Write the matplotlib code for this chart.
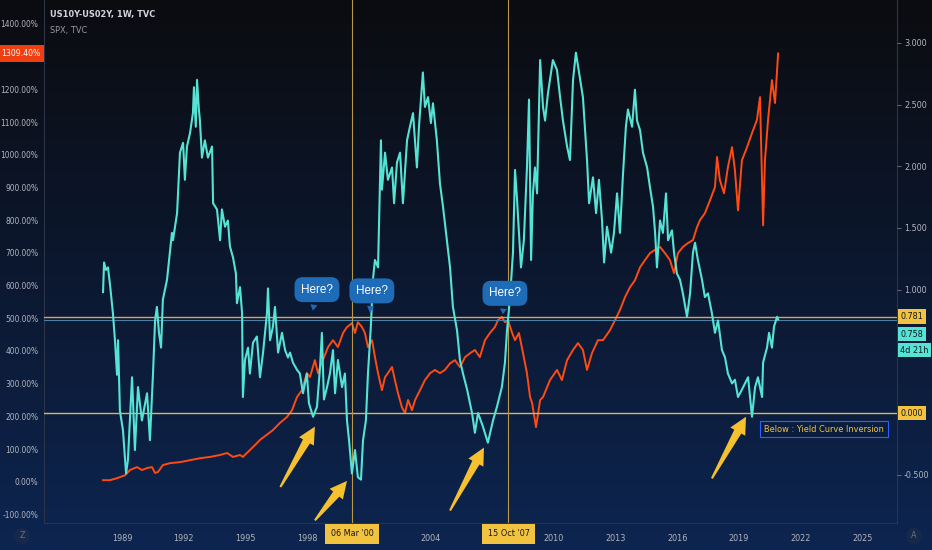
import numpy as np
import matplotlib.pyplot as plt
from matplotlib.transforms import blended_transform_factory
from matplotlib.patches import Polygon

plt.rcParams['font.family'] = ['DejaVu Sans']
plt.rcParams['font.stretch'] = 'condensed'

# US10Y-US02Y spread (right axis)
spread_years = [
    1988.08, 1988.13, 1988.22, 1988.32, 1988.42, 1988.56, 1988.66, 1988.76, 1988.81, 1988.90,
    1989.05, 1989.20, 1989.29, 1989.49, 1989.63, 1989.78, 1989.97, 1990.22, 1990.36, 1990.51,
    1990.61, 1990.70, 1990.80, 1990.90, 1990.99, 1991.19, 1991.33, 1991.43, 1991.48, 1991.68,
    1991.82, 1991.97, 1992.06, 1992.16, 1992.31, 1992.45, 1992.50, 1992.59, 1992.65, 1992.74,
    1992.79, 1992.89, 1993.03, 1993.18, 1993.38, 1993.43, 1993.62, 1993.77, 1993.86, 1994.01,
    1994.15, 1994.25, 1994.40, 1994.54, 1994.59, 1994.74, 1994.84, 1994.88, 1994.98, 1995.13,
    1995.22, 1995.37, 1995.56, 1995.71, 1995.86, 1996.05, 1996.10, 1996.20, 1996.34, 1996.44,
    1996.59, 1996.78, 1996.93, 1997.07, 1997.17, 1997.31, 1997.51, 1997.65, 1997.80, 1997.99,
    1998.09, 1998.29, 1998.48, 1998.63, 1998.72, 1998.82, 1998.97, 1999.11, 1999.26, 1999.36,
    1999.50, 1999.70, 1999.84, 1999.94, 2000.04, 2000.18, 2000.33, 2000.47, 2000.62, 2000.72,
    2000.86, 2000.96, 2001.10, 2001.20, 2001.30, 2001.45, 2001.59, 2001.64, 2001.79, 2001.93,
    2002.13, 2002.23, 2002.37, 2002.52, 2002.66, 2002.86, 2003.00, 2003.15, 2003.34, 2003.44,
    2003.63, 2003.73, 2003.88, 2004.02, 2004.12, 2004.31, 2004.46, 2004.61, 2004.80, 2004.95,
    2005.09, 2005.29, 2005.43, 2005.58, 2005.78, 2006.02, 2006.16, 2006.31, 2006.55, 2006.79,
    2007.04, 2007.23, 2007.47, 2007.62, 2007.72, 2007.86, 2008.01, 2008.11, 2008.20, 2008.30,
    2008.40, 2008.54, 2008.69, 2008.79, 2008.89, 2008.98, 2009.08, 2009.18, 2009.33, 2009.47,
    2009.57, 2009.71, 2009.95, 2010.15, 2010.30, 2010.44, 2010.64, 2010.78, 2010.93, 2011.07,
    2011.22, 2011.41, 2011.61, 2011.71, 2011.90, 2012.05, 2012.19, 2012.34, 2012.44, 2012.58,
    2012.78, 2012.92, 2013.07, 2013.21, 2013.36, 2013.50, 2013.60, 2013.80, 2013.94, 2014.04,
    2014.19, 2014.33, 2014.53, 2014.67, 2014.82, 2014.92, 2015.01, 2015.16, 2015.30, 2015.45,
    2015.55, 2015.74, 2015.84, 2015.98, 2016.13, 2016.27, 2016.47, 2016.62, 2016.76, 2016.86,
    2017.00, 2017.20, 2017.34, 2017.49, 2017.68, 2017.83, 2017.98, 2018.17, 2018.32, 2018.46,
    2018.66, 2018.80, 2018.95, 2019.14, 2019.29, 2019.44, 2019.63, 2019.78, 2019.92, 2020.12,
    2020.17, 2020.36, 2020.46, 2020.60, 2020.70, 2020.85, 2020.90,
]
spread_values = [
    0.98, 1.22, 1.16, 1.18, 1.04, 0.81, 0.59, 0.31, 0.59, 0.02,
    -0.14, -0.49, -0.38, 0.29, -0.30, 0.21, -0.06, 0.16, -0.22, 0.32,
    0.75, 0.86, 0.65, 0.53, 0.92, 1.08, 1.30, 1.46, 1.40, 1.62,
    2.11, 2.19, 1.89, 2.16, 2.27, 2.43, 2.64, 2.32, 2.70, 2.46,
    2.37, 2.07, 2.21, 2.07, 2.16, 1.70, 1.65, 1.40, 1.65, 1.51,
    1.56, 1.35, 1.26, 1.13, 0.89, 1.02, 0.81, 0.13, 0.43, 0.53,
    0.32, 0.57, 0.62, 0.29, 0.49, 0.81, 1.01, 0.59, 0.70, 0.86,
    0.49, 0.65, 0.51, 0.45, 0.49, 0.41, 0.35, 0.32, 0.16, 0.32,
    0.08, -0.03, 0.05, 0.37, 0.65, 0.11, 0.21, 0.32, 0.51, 0.16,
    0.43, 0.21, 0.32, -0.06, -0.22, -0.49, -0.30, -0.52, -0.54, -0.22,
    -0.06, 0.32, 0.70, 1.08, 1.24, 1.18, 2.21, 1.81, 2.11, 1.89,
    1.99, 1.70, 2.03, 2.11, 1.70, 2.21, 2.32, 2.43, 1.99, 2.32,
    2.76, 2.48, 2.56, 2.35, 2.51, 2.21, 1.86, 1.67, 1.40, 1.18,
    0.86, 0.67, 0.43, 0.32, 0.19, 0.00, -0.16, 0.00, -0.11, -0.24,
    -0.06, 0.05, 0.21, 0.41, 0.67, 0.92, 1.30, 1.97, 1.75, 1.46,
    1.18, 1.40, 1.99, 2.54, 1.24, 1.78, 1.99, 1.78, 2.86, 2.48,
    2.37, 2.59, 2.86, 2.78, 2.56, 2.37, 2.16, 2.05, 2.70, 2.92,
    2.76, 2.56, 2.05, 1.70, 1.91, 1.62, 1.89, 1.56, 1.22, 1.51,
    1.30, 1.46, 1.78, 1.46, 1.94, 2.32, 2.46, 2.32, 2.62, 2.37,
    2.29, 2.11, 1.99, 1.83, 1.67, 1.46, 1.18, 1.56, 1.46, 1.78,
    1.40, 1.48, 1.30, 1.13, 1.08, 0.97, 0.78, 0.97, 1.30, 1.38,
    1.24, 1.08, 0.94, 0.97, 0.81, 0.65, 0.75, 0.51, 0.45, 0.32,
    0.24, 0.27, 0.13, 0.19, 0.24, 0.29, -0.03, 0.21, 0.29, 0.13,
    0.41, 0.53, 0.65, 0.53, 0.70, 0.78, 0.758,
]

# SPX change in percent (left axis)
spx_years = [
    1988.08, 1988.42, 1988.76, 1989.15, 1989.39, 1989.73, 1989.97, 1990.22, 1990.46, 1990.61,
    1990.75, 1990.99, 1991.33, 1991.82, 1992.31, 1992.79, 1993.28, 1993.77, 1994.11, 1994.40,
    1994.74, 1994.88, 1995.22, 1995.56, 1995.71, 1996.34, 1996.68, 1997.02, 1997.27, 1997.51,
    1997.75, 1997.99, 1998.14, 1998.38, 1998.53, 1998.77, 1999.02, 1999.26, 1999.50, 1999.75,
    1999.94, 2000.18, 2000.33, 2000.47, 2000.67, 2000.81, 2000.96, 2001.16, 2001.30, 2001.45,
    2001.64, 2001.79, 2001.93, 2002.13, 2002.27, 2002.42, 2002.61, 2002.76, 2002.91, 2003.10,
    2003.25, 2003.49, 2003.73, 2003.98, 2004.22, 2004.46, 2004.70, 2004.95, 2005.19, 2005.43,
    2005.68, 2005.92, 2006.16, 2006.40, 2006.65, 2006.89, 2007.13, 2007.28, 2007.47, 2007.62,
    2007.77, 2007.97, 2008.11, 2008.30, 2008.50, 2008.69, 2008.84, 2008.94, 2009.13, 2009.33,
    2009.47, 2009.81, 2010.15, 2010.39, 2010.64, 2010.93, 2011.17, 2011.41, 2011.61, 2011.85,
    2012.14, 2012.39, 2012.73, 2012.97, 2013.21, 2013.46, 2013.70, 2013.94, 2014.19, 2014.43,
    2014.67, 2014.91, 2015.16, 2015.40, 2015.64, 2015.84, 2016.03, 2016.27, 2016.52, 2016.76,
    2016.96, 2017.10, 2017.34, 2017.59, 2017.83, 2017.93, 2018.07, 2018.27, 2018.46, 2018.66,
    2018.80, 2018.95, 2019.14, 2019.39, 2019.63, 2019.87, 2020.02, 2020.17, 2020.26, 2020.41,
    2020.60, 2020.75, 2020.90,
]
spx_pct = [
    5, 5, 11, 20, 36, 45, 36, 42, 45, 27,
    30, 51, 57, 60, 66, 72, 76, 82, 88, 76,
    82, 76, 97, 118, 128, 158, 180, 198, 219, 259,
    280, 332, 320, 372, 332, 372, 412, 433, 412, 455,
    473, 485, 455, 488, 473, 455, 412, 433, 381, 332,
    280, 320, 332, 351, 311, 271, 228, 210, 250, 219,
    250, 280, 311, 332, 342, 332, 342, 362, 372, 351,
    381, 393, 403, 381, 433, 455, 473, 494, 504, 488,
    494, 455, 433, 455, 393, 332, 259, 241, 167, 250,
    259, 311, 342, 311, 372, 403, 424, 403, 342, 393,
    433, 433, 464, 494, 525, 565, 595, 616, 656, 678,
    699, 709, 718, 699, 678, 638, 699, 718, 730, 739,
    779, 800, 821, 861, 901, 993, 922, 882, 962, 1023,
    953, 830, 983, 1023, 1066, 1106, 1176, 784, 983, 1106,
    1228, 1158, 1309.4,
]

year_ticks = list(range(1989, 2026, 3))
pct_ticks = list(range(-100, 1500, 100))
spread_ticks = [-0.5, 1.0, 1.5, 2.0, 2.5, 3.0]

CYAN = '#55e3d3'
ORANGE = '#ff4b12'
GOLD = '#f2c33f'
LABEL = '#b2b5be'

W, H = 932, 550
fig = plt.figure(figsize=(W / 100, H / 100), dpi=100)

# background gradient
bg = fig.add_axes([0, 0, 1, 1], zorder=-10)
bg.axis('off')
t = np.linspace(0, 1, 256)
stops = [0, 0.5, 1]
cols = np.array([[11, 12, 16], [12, 24, 48], [13, 37, 80]]) / 255
grad = np.stack([np.interp(t, stops, cols[:, i]) for i in range(3)], axis=-1)[:, None, :]
bg.imshow(grad, aspect='auto', extent=[0, 1, 0, 1])

ax = fig.add_axes([44 / W, 27 / H, (897 - 44) / W, 523 / H])
ax.set_facecolor('none')
ax.plot(spx_years, spx_pct, color=ORANGE, lw=1.4)
ax.set_xlim(1985.21, 2026.68)
ax.set_ylim(-126, 1473)

ax2 = ax.twinx()
ax2.set_ylim(-0.891, 3.347)

# reference lines
ax2.axhline(0.781, color='#d9a55a', lw=1.0)
ax2.axhline(0.758, color='#4a7fa8', lw=0.8)
ax2.axhline(0.0, color='#d6b85a', lw=1.0)
for d in (2000.18, 2007.79):
    ax2.axvline(d, color='#b8964c', lw=0.8)

ax2.plot(spread_years, spread_values, color=CYAN, lw=1.5)

# axes styling
ax.set_yticks(pct_ticks)
ax.set_yticklabels([f'{v:.2f}%' for v in pct_ticks])
ax.tick_params(axis='y', length=0, pad=4, labelsize=6.0, labelcolor=LABEL)
ax.set_xticks(year_ticks)
ax.set_xticklabels([str(y) for y in year_ticks])
ax.tick_params(axis='x', length=0, pad=8, labelsize=6.5, labelcolor=LABEL)
ax2.set_yticks(spread_ticks)
ax2.set_yticklabels([f'{v:.3f}' for v in spread_ticks])
ax2.tick_params(axis='y', length=3, width=0.6, color='#787b86', pad=2,
                labelsize=6.5, labelcolor=LABEL)
ax.spines['top'].set_visible(False)
for s in ('left', 'right', 'bottom'):
    ax.spines[s].set_color('#2c3447')
    ax.spines[s].set_linewidth(0.8)
for s in ax2.spines.values():
    s.set_visible(False)

# price tags on the right scale
tr_right = blended_transform_factory(ax2.transAxes, ax2.transData)
tags = [(0.781, '0.781', GOLD), (0.64, '0.758', CYAN), (0.51, '4d 21h', CYAN), (0.0, '0.000', GOLD)]
for yv, txt, fc in tags:
    ax2.text(1.004, yv, txt, transform=tr_right, ha='left', va='center', fontsize=6.5,
             color='#131722', clip_on=False, zorder=20,
             bbox=dict(boxstyle='square,pad=0.3', fc=fc, ec='none'))

# last SPX value tag on the left scale
tr_left = blended_transform_factory(ax2.transAxes, ax.transData)
ax2.text(-0.004, 1309.4, '1309.40%', transform=tr_left, ha='right', va='center',
         fontsize=6.2, color='white', clip_on=False, zorder=20,
         bbox=dict(boxstyle='square,pad=0.45', fc='#f03e10', ec='none'))

# date tags on the time scale
tr_bottom = blended_transform_factory(ax2.transData, ax2.transAxes)
for d, txt in ((2000.18, "06 Mar '00"), (2007.79, "15 Oct '07")):
    ax2.text(d, -0.021, txt, transform=tr_bottom, ha='center', va='center', fontsize=6.5,
             color='#131722', clip_on=False, zorder=20,
             bbox=dict(boxstyle='square,pad=0.6', fc=GOLD, ec='none'))

# speech bubbles
bubbles = [((1998.28, 0.83), (1998.48, 1.00)),
           ((2001.06, 0.81), (2001.15, 0.99)),
           ((2007.52, 0.80), (2007.62, 0.97))]
for tip, centre in bubbles:
    ax2.annotate('Here?', xy=tip, xytext=centre, ha='center', va='center',
                 fontsize=8.5, color='white', family=['Liberation Sans', 'DejaVu Sans'],
                 fontstretch='normal', zorder=15,
                 bbox=dict(boxstyle='round,pad=0.55,rounding_size=0.7', fc='#1e6bb8', ec='none'),
                 arrowprops=dict(arrowstyle='wedge,tail_width=0.6', fc='#1e6bb8', ec='none',
                                 shrinkB=0))


def yellow_arrow(axis, tail, tip):
    p0 = axis.transData.transform(tail)
    p1 = axis.transData.transform(tip)
    d = p1 - p0
    L = np.hypot(*d)
    u = d / L
    n = np.array([-u[1], u[0]])
    neck = p0 + u * (L - 17)
    pts = [p0 + n * 1.0, neck + n * 4.0, neck + n * 8.5, p1,
           neck - n * 8.5, neck - n * 4.0, p0 - n * 1.0]
    pts = axis.transData.inverted().transform(np.array(pts))
    axis.add_patch(Polygon(pts, closed=True, fc='#f5c12e', ec='none', zorder=16))


arrows = [((1996.70, -0.60), (1998.38, -0.11)),
          ((1998.38, -0.87), (1999.94, -0.55)),
          ((2004.95, -0.79), (2006.60, -0.28)),
          ((2017.68, -0.53), (2019.34, -0.03))]
for tail, tip in arrows:
    yellow_arrow(ax2, tail, tip)

ax2.text(2020.22, -0.13, 'Below : Yield Curve Inversion', ha='left', va='center',
         fontsize=6.6, color=GOLD, zorder=17,
         bbox=dict(boxstyle='square,pad=0.4', fc='#0b1d3d', ec='#2962ff', lw=0.8))

# legend lines
fig.text(50 / W, 1 - 14 / H, 'US10Y-US02Y, 1W, TVC', fontsize=6.6, color='#d1d4dc',
         fontweight='bold', va='center')
fig.text(50 / W, 1 - 31 / H, 'SPX, TVC', fontsize=6.6, color='#9598a1', va='center')

# corner buttons
fig.text(22 / W, 1 - 536 / H, 'Z', fontsize=6.5, color='#6a7080', ha='center', va='center',
         bbox=dict(boxstyle='circle,pad=0.4', fc='#16294a', ec='none'))
fig.text(914 / W, 1 - 536 / H, 'A', fontsize=6.5, color='#6a7080', ha='center', va='center',
         bbox=dict(boxstyle='circle,pad=0.4', fc='#16294a', ec='none'))

fig.savefig('out.png', dpi=100)
